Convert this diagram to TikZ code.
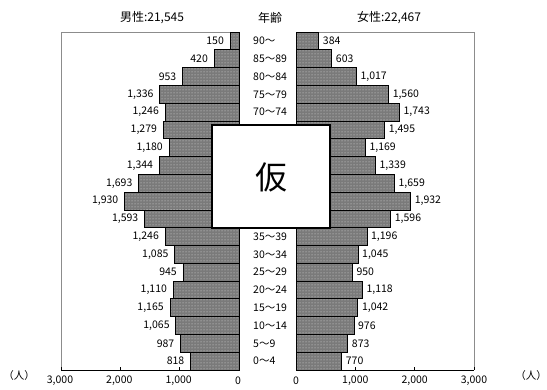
\documentclass[tikz,border=0pt]{standalone}
\usepackage{fontspec}
\setmainfont{Noto Sans CJK JP}
\usetikzlibrary{patterns}
\pgfkeys{/pgf/number format/.cd, assume math mode = true, 1000 sep = {,}}
\begin{document}
\begin{tikzpicture}[x = 1pt, y = -1pt,
    bar/.style = {draw = black, line width = 0.7pt, preaction = {fill = black!52}, pattern = dots, pattern color = black!12},
    frame/.style = {draw = black!45, line width = 0.6pt},
    axis/.style = {draw = black, line width = 0.7pt},
    num/.style = {font = \fontsize{10.5}{12}\selectfont, inner sep = 0pt},
    head/.style = {font = \fontsize{12}{14}\selectfont, inner sep = 0pt}]
  \useasboundingbox (0,0) rectangle (547,390);
  % panels
  \draw [frame] (61, 370) -- (61, 32) -- (239, 32);
  \draw [frame] (296, 32) -- (474, 32) -- (474, 370);
  % bars, one row per age group
  \foreach \age/\m/\f [count = \i from 0] in {
      90～/150/384, 85～89/420/603, 80～84/953/1017, 75～79/1336/1560,
      70～74/1246/1743, 65～69/1279/1495, 60～64/1180/1169, 55～59/1344/1339,
      50～54/1693/1659, 45～49/1930/1932, 40～44/1593/1596, 35～39/1246/1196,
      30～34/1085/1045, 25～29/945/950, 20～24/1110/1118, 15～19/1165/1042,
      10～14/1065/976, 5～9/987/873, 0～4/818/770}{
    \pgfmathsetmacro\rowtop{32 + 17.79*\i}
    \draw [bar] (239 - \m*0.05933, \rowtop) rectangle (239, \rowtop + 17.79);
    \draw [bar] (296, \rowtop) rectangle (296 + \f*0.05933, \rowtop + 17.79);
    \node [num, anchor = east] (m\i) at (239 - \m*0.05933 - 6, \rowtop + 8.9) {\pgfmathprintnumber{\m}};
    \node [num, anchor = west] (f\i) at (296 + \f*0.05933 + 4, \rowtop + 8.9) {\pgfmathprintnumber{\f}};
    \ifnum\i<5 \node [num, anchor = west] (age\i) at (253, \rowtop + 8.9) {\age};\fi
    \ifnum\i>10 \node [num, anchor = west] (age\i) at (253, \rowtop + 8.9) {\age};\fi
  }
  % axes
  \draw [axis] (61, 370) -- (239, 370);
  \draw [axis] (296, 370) -- (474, 370);
  \foreach \v/\t [count = \k] in {0/0, 1000/{1,000}, 2000/{2,000}, 3000/{3,000}}{
    \draw [axis] (239 - \v*0.05933, 370) -- (239 - \v*0.05933, 367);
    \draw [axis] (296 + \v*0.05933, 370) -- (296 + \v*0.05933, 367);
    \node [num] (tl\k) at (238 - \v*0.05933, 381) {\t};
    \node [num] (tr\k) at (296 + \v*0.05933, 381) {\t};
  }
  \node [num] (unitl) at (19, 376) {（人）};
  \node [num, anchor = east] (unitr) at (547, 376) {（人）};
  % headings
  \node [head] (male) at (152, 18) {男性:21,545};
  \node [head] (agehead) at (270, 18) {年齢};
  \node [head] (female) at (389, 18) {女性:22,467};
  % provisional mark
  \draw [line width = 2pt, fill = white] (212, 125) rectangle (330, 228);
  \node [font = \fontsize{32}{34}\selectfont, inner sep = 0pt] (mark) at (271, 177) {仮};
\end{tikzpicture}
\end{document}
